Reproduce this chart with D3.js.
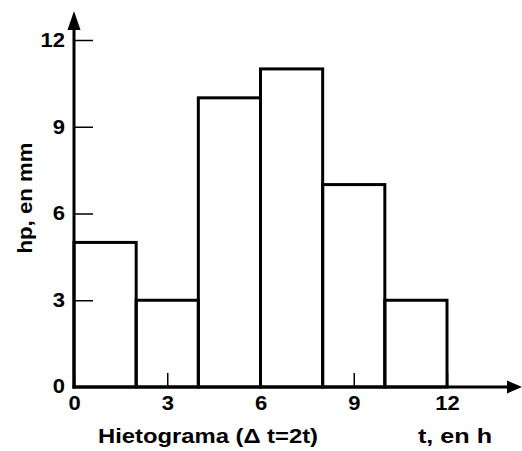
<!DOCTYPE html>
<html>
<head>
<meta charset="utf-8">
<script src="https://cdn.jsdelivr.net/npm/d3@7"></script>
<style>
  html, body { margin: 0; padding: 0; background: #fff; }
  svg { display: block; }
  text { font-family: "Liberation Sans", Arial, sans-serif; font-weight: bold; fill: #000; }
</style>
</head>
<body>
<svg id="chart" width="522" height="451"></svg>
<script>
// Data
const binStarts = [0, 2, 4, 6, 8, 10];
const binWidth = 2;
const hpValues = [5, 3, 10, 11, 7, 3];
const xTicks = [0, 3, 6, 9, 12];
const yTicks = [3, 6, 9, 12];
const yZeroLabel = "0";
const xTitle = "Hietograma (\u0394 t=2t)";
const xUnitTitle = "t, en h";
const yTitle = "hp, en mm";

const svg = d3.select("#chart");

const x = d3.scaleLinear().domain([0, 12]).range([74, 447]);
const y = d3.scaleLinear().domain([0, 12]).range([387, 40]);

// Bars
svg.append("g").selectAll("rect")
  .data(binStarts.map((s, i) => ({ s, v: hpValues[i] })))
  .join("rect")
  .attr("x", d => x(d.s))
  .attr("y", d => y(d.v))
  .attr("width", d => x(d.s + binWidth) - x(d.s))
  .attr("height", d => y(0) - y(d.v))
  .attr("fill", "none")
  .attr("stroke", "#000")
  .attr("stroke-width", 3);

function stretch(sel, f) {
  sel.each(function () {
    const len = this.getComputedTextLength();
    d3.select(this).attr("textLength", len * f).attr("lengthAdjust", "spacingAndGlyphs");
  });
}

// Y axis ticks (inward)
const yAxis = svg.append("g")
  .attr("transform", `translate(${x(0)},0)`)
  .call(d3.axisLeft(y).tickValues(yTicks).tickSizeInner(-19).tickSizeOuter(0).tickPadding(9));
yAxis.select(".domain").remove();
yAxis.selectAll(".tick line").attr("stroke", "#000").attr("stroke-width", 1.5);
yAxis.selectAll(".tick text").attr("font-size", 20).attr("font-family", null).call(stretch, 1.1);

// zero label on y
svg.append("text")
  .attr("x", x(0) - 9).attr("y", y(0)).attr("dy", "0.32em")
  .attr("text-anchor", "end").attr("font-size", 20)
  .text(yZeroLabel).call(stretch, 1.1);

// X axis ticks (inward)
const xAxis = svg.append("g")
  .attr("transform", `translate(0,${y(0)})`)
  .call(d3.axisBottom(x).tickValues(xTicks).tickSizeInner(-14).tickSizeOuter(0).tickPadding(9));
xAxis.select(".domain").remove();
xAxis.selectAll(".tick line").attr("stroke", "#000").attr("stroke-width", 1.5);
xAxis.selectAll(".tick text").attr("font-size", 20).attr("font-family", null).call(stretch, 1.1);

// Axis lines with arrows
svg.append("line")
  .attr("x1", x(0)).attr("y1", y(0) + 1.5)
  .attr("x2", x(0)).attr("y2", 28)
  .attr("stroke", "#000").attr("stroke-width", 3);
svg.append("path")
  .attr("d", `M${x(0)},11 L${x(0) + 6.5},30 L${x(0) - 6.5},30 Z`)
  .attr("fill", "#000");

svg.append("line")
  .attr("x1", x(0) - 1.5).attr("y1", y(0))
  .attr("x2", 510).attr("y2", y(0))
  .attr("stroke", "#000").attr("stroke-width", 3);
svg.append("path")
  .attr("d", `M522,${y(0)} L507,${y(0) - 6.5} L507,${y(0) + 6.5} Z`)
  .attr("fill", "#000");

// Titles
svg.append("text")
  .attr("x", 98).attr("y", 443)
  .attr("font-size", 20)
  .attr("textLength", 220).attr("lengthAdjust", "spacingAndGlyphs")
  .text(xTitle);

svg.append("text")
  .attr("x", 418).attr("y", 443)
  .attr("font-size", 20)
  .attr("textLength", 74).attr("lengthAdjust", "spacingAndGlyphs")
  .text(xUnitTitle);

svg.append("text")
  .attr("transform", "translate(32,198) rotate(-90)")
  .attr("text-anchor", "middle")
  .attr("font-size", 21)
  .attr("textLength", 111).attr("lengthAdjust", "spacingAndGlyphs")
  .text(yTitle);
</script>
</body>
</html>
